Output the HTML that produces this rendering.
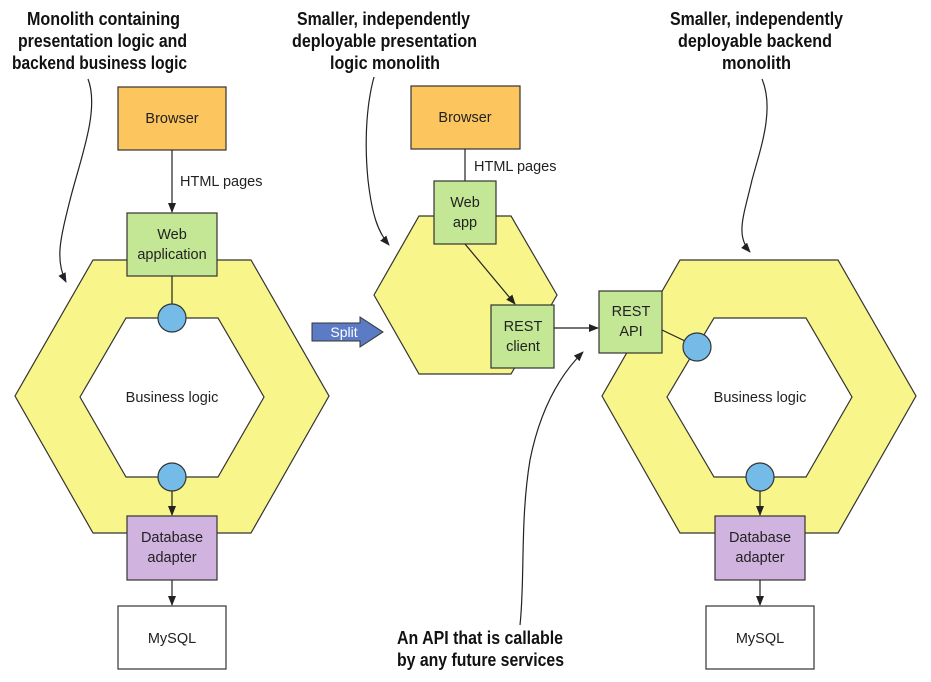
<!DOCTYPE html>
<html><head><meta charset="utf-8"><style>
html,body{margin:0;padding:0;background:#fff}
svg{display:block}
.t{font-family:"Liberation Sans",sans-serif;font-size:14.5px;fill:#222}
.b{font-family:"Liberation Sans",sans-serif;font-weight:bold;font-size:18px;fill:#111}
.box{stroke:#333;stroke-width:1.2}
.ln{stroke:#222;stroke-width:1.2;fill:none}
</style></head><body>
<svg width="931" height="682" viewBox="0 0 931 682" xmlns="http://www.w3.org/2000/svg">
<defs>
<marker id="a" markerWidth="10" markerHeight="8" refX="9" refY="4" orient="auto" markerUnits="userSpaceOnUse">
<path d="M0,0 L10,4 L0,8 z" fill="#222"/></marker>
</defs>

<path d="M15,396 L93,260 L251,260 L329,396 L251,533 L93,533 Z M80,397 L126,318 L218,318 L264,397 L218,477 L126,477 Z" fill="#f8f68a" fill-rule="evenodd" stroke="#333" stroke-width="1.2"/>
<text class="t" x="172" y="402" text-anchor="middle">Business logic</text>
<rect class="box" x="118" y="87" width="108" height="63" fill="#fcc55e"/>
<text class="t" x="172" y="123" text-anchor="middle">Browser</text>
<line class="ln" x1="172" y1="150" x2="172" y2="212" marker-end="url(#a)"/>
<text class="t" x="180" y="186">HTML pages</text>
<rect class="box" x="127" y="213" width="90" height="63" fill="#c3e794"/>
<text class="t" x="172" y="239" text-anchor="middle">Web</text>
<text class="t" x="172" y="259" text-anchor="middle">application</text>
<line class="ln" x1="172" y1="276" x2="172" y2="304"/>
<circle cx="172" cy="318" r="14" fill="#74bbe8" stroke="#333" stroke-width="1.2"/>
<circle cx="172" cy="477" r="14" fill="#74bbe8" stroke="#333" stroke-width="1.2"/>
<line class="ln" x1="172" y1="491" x2="172" y2="515" marker-end="url(#a)"/>
<rect class="box" x="127" y="516" width="90" height="64" fill="#d0b3df"/>
<text class="t" x="172" y="542" text-anchor="middle">Database</text>
<text class="t" x="172" y="562" text-anchor="middle">adapter</text>
<line class="ln" x1="172" y1="580" x2="172" y2="605" marker-end="url(#a)"/>
<rect class="box" x="118" y="606" width="108" height="63" fill="#fff"/>
<text class="t" x="172" y="643" text-anchor="middle">MySQL</text>

<text class="b" x="27" y="25" textLength="153" lengthAdjust="spacingAndGlyphs">Monolith containing</text>
<text class="b" x="18" y="47" textLength="169" lengthAdjust="spacingAndGlyphs">presentation logic and</text>
<text class="b" x="12" y="69" textLength="175" lengthAdjust="spacingAndGlyphs">backend business logic</text>
<path class="ln" d="M88,79 C100,110 80,160 70,200 C60,240 55,260 66,282" marker-end="url(#a)"/>

<path d="M312,323 L360,323 L360,317 L383,332 L360,347 L360,341 L312,341 Z" fill="#5b7cc4" stroke="#333" stroke-width="1"/>
<text x="344" y="337" text-anchor="middle" font-family="Liberation Sans,sans-serif" font-size="14" fill="#fff">Split</text>

<path d="M374,295 L419,216 L511,216 L557,295 L511,374 L419,374 Z" fill="#f8f68a" stroke="#333" stroke-width="1.2"/>
<rect class="box" x="411" y="86" width="109" height="63" fill="#fcc55e"/>
<text class="t" x="465" y="122" text-anchor="middle">Browser</text>
<line class="ln" x1="465" y1="149" x2="465" y2="181"/>
<text class="t" x="474" y="171">HTML pages</text>
<rect class="box" x="434" y="181" width="62" height="63" fill="#c3e794"/>
<text class="t" x="465" y="207" text-anchor="middle">Web</text>
<text class="t" x="465" y="227" text-anchor="middle">app</text>
<line class="ln" x1="465" y1="244" x2="515" y2="304" marker-end="url(#a)"/>
<rect class="box" x="491" y="305" width="63" height="63" fill="#c3e794"/>
<text class="t" x="523" y="331" text-anchor="middle">REST</text>
<text class="t" x="523" y="351" text-anchor="middle">client</text>
<line class="ln" x1="554" y1="328" x2="598" y2="328" marker-end="url(#a)"/>

<text class="b" x="297" y="25" textLength="173" lengthAdjust="spacingAndGlyphs">Smaller, independently</text>
<text class="b" x="292" y="47" textLength="185" lengthAdjust="spacingAndGlyphs">deployable presentation</text>
<text class="b" x="330" y="69" textLength="110" lengthAdjust="spacingAndGlyphs">logic monolith</text>
<path class="ln" d="M374,77 C365,110 365,150 368,180 C372,215 378,232 389,245" marker-end="url(#a)"/>

<path d="M602,396 L680,260 L838,260 L916,396 L838,533 L680,533 Z M667,397 L714,318 L806,318 L852,397 L806,477 L714,477 Z" fill="#f8f68a" fill-rule="evenodd" stroke="#333" stroke-width="1.2"/>
<text class="t" x="760" y="402" text-anchor="middle">Business logic</text>
<rect class="box" x="599" y="291" width="63" height="62" fill="#c3e794"/>
<text class="t" x="631" y="316" text-anchor="middle">REST</text>
<text class="t" x="631" y="336" text-anchor="middle">API</text>
<line class="ln" x1="662" y1="330" x2="685" y2="341"/>
<circle cx="697" cy="347" r="14" fill="#74bbe8" stroke="#333" stroke-width="1.2"/>
<circle cx="760" cy="477" r="14" fill="#74bbe8" stroke="#333" stroke-width="1.2"/>
<line class="ln" x1="760" y1="491" x2="760" y2="515" marker-end="url(#a)"/>
<rect class="box" x="715" y="516" width="90" height="64" fill="#d0b3df"/>
<text class="t" x="760" y="542" text-anchor="middle">Database</text>
<text class="t" x="760" y="562" text-anchor="middle">adapter</text>
<line class="ln" x1="760" y1="580" x2="760" y2="605" marker-end="url(#a)"/>
<rect class="box" x="706" y="606" width="108" height="63" fill="#fff"/>
<text class="t" x="760" y="643" text-anchor="middle">MySQL</text>

<text class="b" x="670" y="25" textLength="173" lengthAdjust="spacingAndGlyphs">Smaller, independently</text>
<text class="b" x="678" y="47" textLength="154" lengthAdjust="spacingAndGlyphs">deployable backend</text>
<text class="b" x="722" y="69" textLength="69" lengthAdjust="spacingAndGlyphs">monolith</text>
<path class="ln" d="M762,79 C775,110 760,150 752,180 C744,215 735,235 750,252" marker-end="url(#a)"/>

<text class="b" x="397" y="644" textLength="166" lengthAdjust="spacingAndGlyphs">An API that is callable</text>
<text class="b" x="397" y="666" textLength="167" lengthAdjust="spacingAndGlyphs">by any future services</text>
<path class="ln" d="M520,625 C525,580 520,520 530,460 C540,410 560,375 583,352" marker-end="url(#a)"/>
</svg>
</body></html>
